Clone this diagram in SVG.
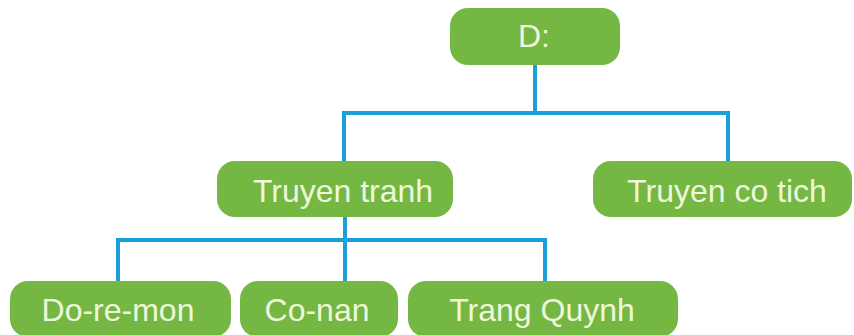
<svg xmlns="http://www.w3.org/2000/svg" width="854" height="335" viewBox="0 0 854 335">
<style>
.box{fill:#74b843;}
.lbl{font-family:"Liberation Sans",Arial,sans-serif;font-size:32px;fill:#eef7dc;text-anchor:middle;}
.edge{stroke:#1a9fd8;stroke-width:4;fill:none;}
</style>
<rect width="854" height="335" fill="#ffffff"/>
<g id="connectors">
<path class="edge" d="M535 65 V113 M344 113 H728 M344 111 V162 M728 111 V162"/>
<path class="edge" d="M345 216 V283 M118 240 H545 M118 238 V283 M545 238 V283"/>
</g>
<g id="node-d">
<rect class="box" x="450" y="8" width="170" height="57" rx="18"/>
<text class="lbl" x="534" y="47" font-size="30">D:</text>
</g>
<g id="node-truyen-tranh">
<rect class="box" x="217" y="161" width="236" height="56" rx="18"/>
<text class="lbl" x="343" y="202">Truyen tranh</text>
</g>
<g id="node-truyen-co-tich">
<rect class="box" x="593" y="161" width="259" height="56" rx="18"/>
<text class="lbl" x="727" y="202">Truyen co tich</text>
</g>
<g id="node-do-re-mon">
<rect class="box" x="10" y="281" width="221" height="56" rx="18"/>
<text class="lbl" x="118" y="321">Do-re-mon</text>
</g>
<g id="node-co-nan">
<rect class="box" x="240" y="281" width="158" height="56" rx="18"/>
<text class="lbl" x="317" y="321">Co-nan</text>
</g>
<g id="node-trang-quynh">
<rect class="box" x="408" y="281" width="270" height="56" rx="18"/>
<text class="lbl" x="542" y="321">Trang Quynh</text>
</g>
</svg>
